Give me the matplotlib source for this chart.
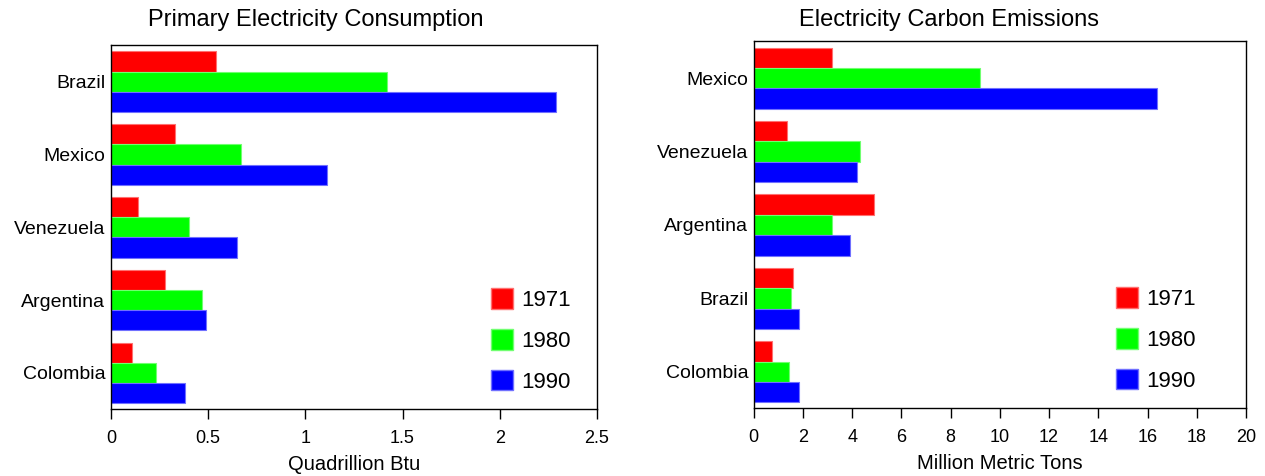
import numpy as np
import matplotlib
matplotlib.use('Agg')
import matplotlib.pyplot as plt
from matplotlib.ticker import FormatStrFormatter
from matplotlib.patches import Patch

plt.rcParams['font.family'] = ['Liberation Sans', 'DejaVu Sans']

# Datos
anios = ['1971', '1980', '1990']
colores = ['#ff0000', '#00ff00', '#0000ff']
bordes = ['#ff7070', '#70ff70', '#7070ff']

paises_cons = ['Brazil', 'Mexico', 'Venezuela', 'Argentina', 'Colombia']
cons_1971 = [0.54, 0.33, 0.14, 0.28, 0.11]
cons_1980 = [1.42, 0.67, 0.40, 0.47, 0.23]
cons_1990 = [2.29, 1.11, 0.65, 0.49, 0.38]

paises_emis = ['Mexico', 'Venezuela', 'Argentina', 'Brazil', 'Colombia']
emis_1971 = [3.2, 1.34, 4.9, 1.6, 0.73]
emis_1980 = [9.2, 4.3, 3.2, 1.5, 1.42]
emis_1990 = [16.4, 4.2, 3.9, 1.83, 1.83]

fig = plt.figure(figsize=(12.65, 4.76), dpi=100)
ax1 = fig.add_axes([0.0877, 0.140, 0.3842, 0.765])
ax2 = fig.add_axes([0.5958, 0.142, 0.3892, 0.771])


def graf(ax, paises, series, xlabel, xmax, paso, fmt, leg_x):
    n = len(paises)
    pos = np.arange(n)
    h = 0.278
    for i, vals in enumerate(series):
        ax.barh(pos + (i - 1) * h, vals, height=h, color=colores[i],
                edgecolor=bordes[i], linewidth=0.8)
    ax.set_ylim(n - 0.5, -0.5)
    ax.set_xlim(0, xmax)
    ax.set_yticks(pos)
    ax.set_yticklabels(paises, fontsize=14)
    ax.set_xticks(np.arange(0, xmax + paso / 2, paso))
    ax.xaxis.set_major_formatter(FormatStrFormatter(fmt))
    ax.tick_params(axis='y', length=0, pad=4)
    ax.tick_params(axis='x', direction='out', length=7, width=1, labelsize=13, pad=8)
    ax.set_xlabel(xlabel, fontsize=14.5, labelpad=5.5)
    for s in ax.spines.values():
        s.set_linewidth(1)
    handles = [Patch(facecolor=colores[i], edgecolor=bordes[i], label=anios[i]) for i in range(3)]
    ax.legend(handles=handles, loc='lower right', frameon=False, fontsize=16,
              handlelength=1.0, handleheight=1.05, handletextpad=0.36,
              labelspacing=0.8, bbox_to_anchor=(leg_x, -0.009))


graf(ax1, paises_cons, [cons_1971, cons_1980, cons_1990],
     'Quadrillion Btu', 2.5, 0.5, '%g', 0.9865)
graf(ax2, paises_emis, [emis_1971, emis_1980, emis_1990],
     'Million Metric Tons', 20, 2, '%d', 0.939)

# titulos centrados en cada mitad de la figura
fig.text(0.25, 0.945, 'Primary Electricity Consumption', fontsize=17, ha='center', va='baseline')
fig.text(0.75, 0.945, 'Electricity Carbon Emissions', fontsize=17, ha='center', va='baseline')

fig.savefig('out.png', dpi=100)
